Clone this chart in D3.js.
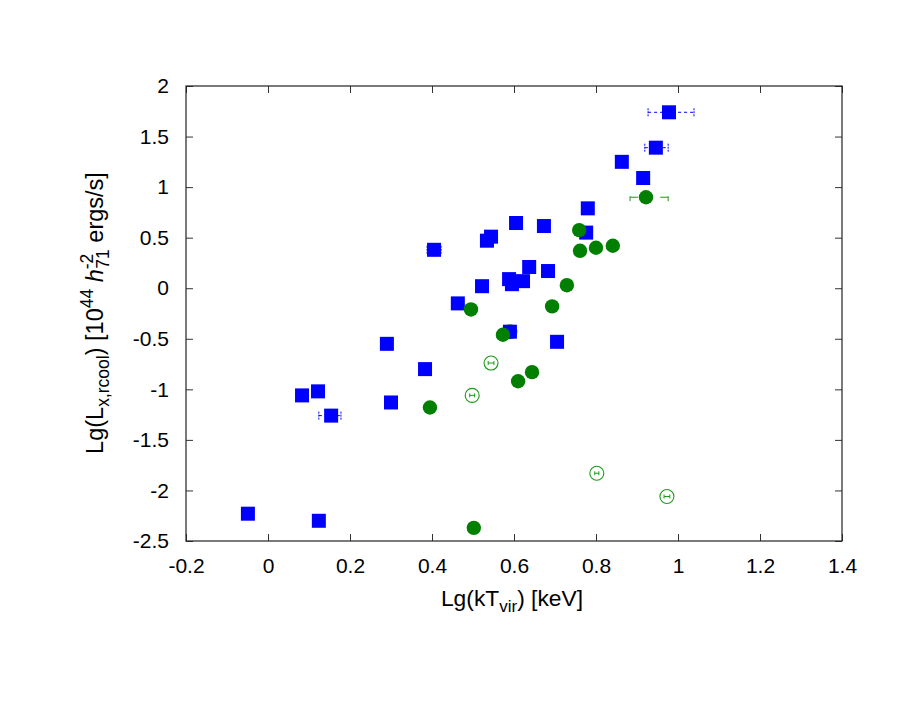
<!DOCTYPE html>
<html><head><meta charset="utf-8">
<script src="https://cdn.jsdelivr.net/npm/d3@7"></script>
<style>body{margin:0;background:#fff}text{font-family:"Liberation Sans",Arial,sans-serif}</style>
</head><body>
<svg id="c" width="913" height="706"></svg>
<script>
const xTicks=[-0.2,0,0.2,0.4,0.6,0.8,1,1.2,1.4];
const yTicks=[2,1.5,1,0.5,0,-0.5,-1,-1.5,-2,-2.5];
// blue squares
const blueX=[0.978,0.946,0.863,0.915,0.78,0.776,0.405,0.605,0.673,0.544,0.534,0.637,0.683,0.522,0.588,0.595,0.622,0.463,0.59,0.705,0.383,0.29,0.30,0.083,0.122,0.154,-0.049,0.124];
const blueY=[1.74,1.39,1.25,1.09,0.79,0.55,0.38,0.645,0.615,0.51,0.47,0.21,0.17,0.02,0.09,0.04,0.07,-0.15,-0.43,-0.53,-0.80,-0.55,-1.13,-1.06,-1.02,-1.26,-2.23,-2.30];
// blue error bars
const blueErrY=[1.74,1.39,0.38,-1.26];
const blueErrLo=[0.927,0.919,0.388,0.124];
const blueErrHi=[1.039,0.976,0.422,0.178];
// green filled circles
const gX=[0.922,0.759,0.761,0.80,0.841,0.729,0.693,0.495,0.573,0.644,0.61,0.395,0.502];
const gY=[0.90,0.575,0.37,0.40,0.42,0.03,-0.18,-0.21,-0.46,-0.83,-0.92,-1.18,-2.37];
const gErrY=[0.90], gErrLo=[0.883], gErrHi=[0.976];
// green open circles
const oX=[0.59,0.544,0.498,0.802,0.973];
const oY=[-0.43,-0.74,-1.06,-1.83,-2.06];
const oErrLo=[0.585,0.537,0.492,0.797,0.966];
const oErrHi=[0.597,0.551,0.504,0.807,0.980];

const svg=d3.select("#c");
const L=186,R=842,T=86,B=541;
const x=d3.scaleLinear().domain([-0.2,1.4]).range([L,R]);
const y=d3.scaleLinear().domain([-2.5,2]).range([B,T]);
const blue="#0000ff", green="#007f00", green2="#1a9a1a";
const tl=7;
const fmt=d=>String(d);
const g=svg.append("g");
const ax=g.append("g").attr("transform",`translate(0,${B})`).call(d3.axisBottom(x).tickValues(xTicks).tickFormat(fmt).tickSize(-tl).tickPadding(tl+10));
const axT=g.append("g").attr("transform",`translate(0,${T})`).call(d3.axisTop(x).tickValues(xTicks).tickFormat("").tickSize(-tl));
const ay=g.append("g").attr("transform",`translate(${L},0)`).call(d3.axisLeft(y).tickValues(yTicks).tickFormat(fmt).tickSize(-tl).tickPadding(tl+10));
const ayR=g.append("g").attr("transform",`translate(${R},0)`).call(d3.axisRight(y).tickValues(yTicks).tickFormat("").tickSize(-tl));
[ax,axT,ay,ayR].forEach(a=>{a.select(".domain").remove();a.selectAll("line").attr("stroke","#333").attr("stroke-width",1);a.selectAll("text").attr("font-size",21).attr("fill","#000").style("font-family","Liberation Sans, Arial, sans-serif");});
ax.selectAll("text").attr("dy","0.71em");
g.append("rect").attr("x",L).attr("y",T).attr("width",R-L).attr("height",B-T).attr("fill","none").attr("stroke","#222").attr("stroke-width",1.2);

// blue error bars (dashed)
const be=g.append("g").attr("stroke",blue).attr("stroke-width",1).attr("stroke-dasharray","3,3").attr("fill","none");
blueErrY.forEach((v,i)=>{
  be.append("line").attr("x1",x(blueErrLo[i])).attr("x2",x(blueErrHi[i])).attr("y1",y(v)).attr("y2",y(v));
  [blueErrLo[i],blueErrHi[i]].forEach(e=>be.append("line").attr("x1",x(e)).attr("x2",x(e)).attr("y1",y(v)-4).attr("y2",y(v)+4).attr("stroke-dasharray","2,1"));
});
// green error bars
const ge=g.append("g").attr("stroke",green2).attr("stroke-width",1).attr("fill","none");
gErrY.forEach((v,i)=>{
  ge.append("line").attr("x1",x(gErrLo[i])).attr("x2",x(gErrLo[i])+8).attr("y1",y(v)).attr("y2",y(v));
  ge.append("line").attr("x1",x(gErrHi[i])-8).attr("x2",x(gErrHi[i])).attr("y1",y(v)).attr("y2",y(v));
  [gErrLo[i],gErrHi[i]].forEach(e=>ge.append("line").attr("x1",x(e)).attr("x2",x(e)).attr("y1",y(v)-1).attr("y2",y(v)+4));
});
// open circles
oX.forEach((v,i)=>{
  g.append("circle").attr("cx",x(v)).attr("cy",y(oY[i])).attr("r",7).attr("fill","none").attr("stroke",green2).attr("stroke-width",1.1);
  ge.append("line").attr("x1",x(oErrLo[i])).attr("x2",x(oErrHi[i])).attr("y1",y(oY[i])).attr("y2",y(oY[i]));
  [oErrLo[i],oErrHi[i]].forEach(e=>ge.append("line").attr("x1",x(e)).attr("x2",x(e)).attr("y1",y(oY[i])-2).attr("y2",y(oY[i])+2));
});
// blue squares
blueX.forEach((v,i)=>{
  g.append("rect").attr("x",x(v)-7).attr("y",y(blueY[i])-7).attr("width",14).attr("height",14).attr("fill",blue);
});
// green filled circles
gX.forEach((v,i)=>{
  g.append("circle").attr("cx",x(v)).attr("cy",y(gY[i])).attr("r",7.2).attr("fill",green);
});

// labels
const xl=svg.append("text").attr("x",512).attr("y",606).attr("text-anchor","middle").attr("font-size",22.8);
xl.append("tspan").text("Lg(kT");
xl.append("tspan").attr("font-size",17).attr("dy",6).text("vir");
xl.append("tspan").attr("dy",-6).text(") [keV]");

const yl=svg.append("text").attr("transform","translate(103,313) rotate(-90)").attr("text-anchor","middle").attr("font-size",23.5);
yl.append("tspan").text("Lg(L");
yl.append("tspan").attr("font-size",17.5).attr("dy",6).text("x,rcool");
yl.append("tspan").attr("dy",-6).text(") [10");
yl.append("tspan").attr("font-size",17.5).attr("dy",-10).text("44");
yl.append("tspan").attr("dy",10).text(" ");
yl.append("tspan").attr("font-style","italic").text("h");
yl.append("tspan").attr("font-size",17.5).attr("dy",-10).text("-2");
yl.append("tspan").attr("font-size",17.5).attr("dx",-15).attr("dy",16).text("71");
yl.append("tspan").attr("dy",-6).text(" ergs/s]");
</script>
</body></html>
